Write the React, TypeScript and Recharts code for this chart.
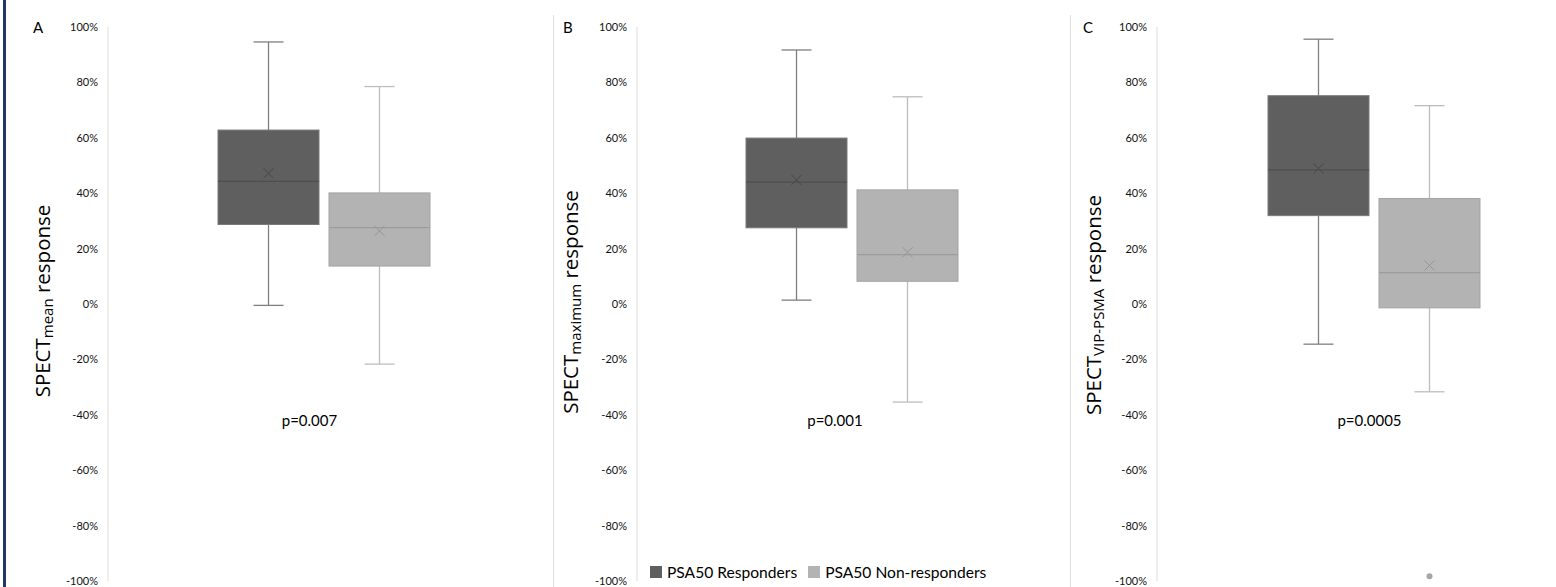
import React from "react";
import { ComposedChart, Bar, XAxis, YAxis, ReferenceLine, Legend, Label } from "recharts";

const groupNames = ["PSA50 Responders", "PSA50 Non-responders"];
const panelLetters = ["A", "B", "C"];
const titleSubscripts = ["mean", "maximum", "VIP-PSMA"];
const pValues = ["p=0.007", "p=0.001", "p=0.0005"];
const yTicks = [-100, -80, -60, -40, -20, 0, 20, 40, 60, 80, 100];

// box stats in %: [lower whisker, Q1, median, Q3, upper whisker, mean]
const meanResponders = [-0.5, 28.7, 44.3, 62.8, 94.6, 47.2];
const meanNonResponders = [-21.7, 13.7, 27.6, 40.1, 78.5, 26.4];
const maxResponders = [1.4, 27.5, 44.0, 59.9, 91.7, 44.8];
const maxNonResponders = [-35.4, 8.2, 17.8, 41.2, 74.8, 18.7];
const vipResponders = [-14.5, 31.9, 48.4, 75.2, 95.6, 48.9];
const vipNonResponders = [-31.7, -1.4, 11.3, 38.1, 71.6, 13.9];
const vipNonResponderOutliers = [-98.3];

const panelStats = [
  [meanResponders, meanNonResponders, [], []],
  [maxResponders, maxNonResponders, [], []],
  [vipResponders, vipNonResponders, [], vipNonResponderOutliers],
];

const FONT = "Lato, 'Open Sans', sans-serif";
const TITLE_FONT = "'Open Sans', sans-serif";

// layout of each panel (pixels)
const layout = [
  { left: 0, width: 560, axisW: 108, right: 21, titleX: 42, titleY: 301, pDx: -14 },
  { left: 554, width: 520, axisW: 83, right: 7, titleX: 16, titleY: 302, pDx: -17 },
  { left: 1070, width: 520, axisW: 87, right: 0, titleX: 23, titleY: 305, pDx: -4 },
];

const respColors = { fill: "#5f5f5f", stroke: "#7a7a7a", median: "#4e4e4e", whisker: "#7f7f7f", mean: "#474747", out: "#7f7f7f" };
const nonColors = { fill: "#b3b3b3", stroke: "#a3a3a3", median: "#9c9c9c", whisker: "#bdbdbd", mean: "#969696", out: "#a6a6a6" };

const makeBox = (statsKey: string, outKey: string, c: any) => (props: any) => {
  const { x, y, width, height, payload } = props;
  const s = payload[statsKey];
  const outs: number[] = payload[outKey] || [];
  const top = Math.min(y, y + height);
  const bot = Math.max(y, y + height);
  // linear map inside the bar's own (scaled) extent from lower to upper whisker
  const py = (v: number) => top + ((s[4] - v) / (s[4] - s[0])) * (bot - top);
  const cx = x + width / 2;
  const cap = 15;
  const m = 5;
  const my = py(s[5]);
  return (
    <g>
      <line x1={cx} x2={cx} y1={py(s[4])} y2={py(s[3])} stroke={c.whisker} strokeWidth={1.3} />
      <line x1={cx} x2={cx} y1={py(s[1])} y2={py(s[0])} stroke={c.whisker} strokeWidth={1.3} />
      <line x1={cx - cap} x2={cx + cap} y1={py(s[4])} y2={py(s[4])} stroke={c.whisker} strokeWidth={1.3} />
      <line x1={cx - cap} x2={cx + cap} y1={py(s[0])} y2={py(s[0])} stroke={c.whisker} strokeWidth={1.3} />
      <rect x={x} y={py(s[3])} width={width} height={py(s[1]) - py(s[3])} fill={c.fill} stroke={c.stroke} strokeWidth={1} />
      <line x1={x} x2={x + width} y1={py(s[2])} y2={py(s[2])} stroke={c.median} strokeWidth={1.3} />
      <line x1={cx - m} x2={cx + m} y1={my - m} y2={my + m} stroke={c.mean} strokeWidth={1} />
      <line x1={cx - m} x2={cx + m} y1={my + m} y2={my - m} stroke={c.mean} strokeWidth={1} />
      {outs.map((o, i) => (
        <circle key={i} cx={cx} cy={py(o)} r={3} fill={c.out} />
      ))}
    </g>
  );
};

const respShape = makeBox("respStats", "respOut", respColors);
const nonShape = makeBox("nonStats", "nonOut", nonColors);

const LegendContent = ({ payload }: any) => {
  const items = [...(payload || [])].sort(
    (a: any, b: any) => groupNames.indexOf(a.value) - groupNames.indexOf(b.value)
  );
  return (
    <div style={{ display: "flex", alignItems: "center", fontFamily: FONT, fontSize: 15.6, color: "#000", whiteSpace: "nowrap" }}>
      {items.map((p: any, i: number) => (
        <div key={i} style={{ display: "flex", alignItems: "center", marginRight: 11 }}>
          <span style={{ display: "inline-block", width: 12, height: 12, background: p.color, marginRight: 5 }} />
          {p.value}
        </div>
      ))}
    </div>
  );
};

function Panel({ idx }: { idx: number }) {
  const L = layout[idx];
  const [r, n, ro, no] = panelStats[idx];
  const rows = [
    {
      cat: panelLetters[idx],
      resp: [r[0], r[4]],
      non: [n[0], n[4]],
      respStats: r,
      nonStats: n,
      respOut: ro,
      nonOut: no,
    },
  ];
  const title = () => {
    const cx = L.titleX;
    const cy = L.titleY;
    return (
      <text
        x={cx}
        y={cy}
        transform={`rotate(-90 ${cx} ${cy})`}
        textAnchor="middle"
        dominantBaseline="central"
        fontFamily={TITLE_FONT}
        fontSize={20.5}
        fill="#000"
      >
        SPECT
        <tspan fontSize={15} dy={5}>{titleSubscripts[idx]}</tspan>
        <tspan fontSize={20.5} dy={-5}> response</tspan>
      </text>
    );
  };
  return (
    <div style={{ position: "absolute", left: L.left, top: 0 }}>
      <ComposedChart
        width={L.width}
        height={587}
        data={rows}
        margin={{ top: 27, right: L.right, bottom: 6, left: 0 }}
        barGap={10}
      >
        <XAxis dataKey="cat" hide />
        <YAxis
          width={L.axisW}
          domain={[-100, 100]}
          ticks={yTicks}
          interval={0}
          tickFormatter={(v) => `${v}%`}
          tick={{ fontSize: 11, fill: "#111", fontFamily: FONT }}
          tickLine={false}
          tickMargin={4}
          axisLine={{ stroke: "#dcdcdc" }}
        >
          <Label content={title} />
        </YAxis>
        <Bar dataKey="resp" name={groupNames[0]} fill="#5f5f5f" barSize={101} shape={respShape} isAnimationActive={false} />
        <Bar dataKey="non" name={groupNames[1]} fill="#b3b3b3" barSize={101} shape={nonShape} isAnimationActive={false} />
        <ReferenceLine
          y={-42}
          stroke="none"
          label={{ value: pValues[idx], position: "center", dx: L.pDx, fill: "#000", fontSize: 15, fontFamily: FONT }}
        />
        {idx === 1 && (
          <Legend
            layout="horizontal"
            verticalAlign="middle"
            align="center"
            content={<LegendContent />}
            wrapperStyle={{ left: 96, top: 563, width: 420, height: 20 }}
          />
        )}
      </ComposedChart>
    </div>
  );
}

export default function App() {
  return (
    <div
      style={{
        position: "fixed",
        left: 0,
        top: 0,
        width: 1556,
        height: 587,
        overflow: "hidden",
        background: "#fff",
        fontFamily: FONT,
      }}
    >
      <div style={{ position: "absolute", left: 3, top: 0, width: 3, height: 587, background: "#203864" }} />
      <div style={{ position: "absolute", left: 553, top: 15, width: 1, height: 572, background: "#dedede" }} />
      <div style={{ position: "absolute", left: 1070, top: 15, width: 1, height: 572, background: "#dedede" }} />
      {[0, 1, 2].map((i) => (
        <Panel key={i} idx={i} />
      ))}
      {panelLetters.map((l, i) => (
        <div
          key={l}
          style={{ position: "absolute", left: [33, 563, 1083][i], top: 18, fontSize: 15, color: "#000" }}
        >
          {l}
        </div>
      ))}
    </div>
  );
}
